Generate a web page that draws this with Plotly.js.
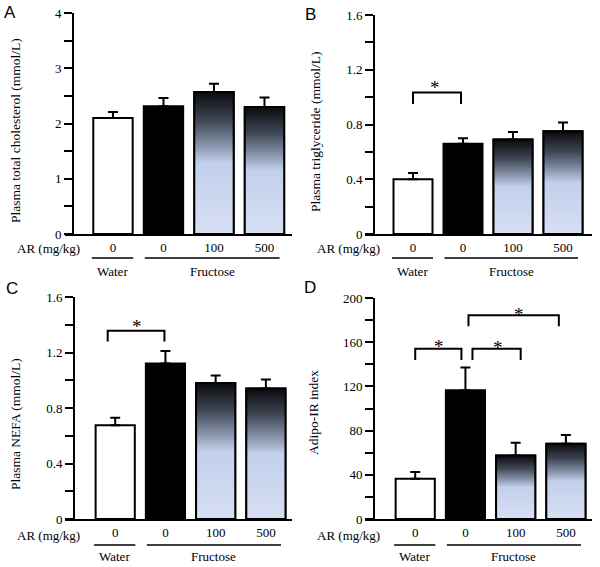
<!DOCTYPE html>
<html>
<head>
<meta charset="utf-8">
<script src="https://cdn.plot.ly/plotly-3.0.1.min.js"></script>
<style>body{margin:0;background:#fff}#chart{width:600px;height:567px}</style>
</head>
<body>
<div id="chart"></div>
<script>
// group labels
var doses = ['0', '0', '100', '500'];
var groupNames = ['Water', 'Fructose'];

// means and SEM
var cholMean = [2.10, 2.31, 2.57, 2.30];
var cholSem = [0.11, 0.15, 0.15, 0.17];
var tgMean = [0.40, 0.66, 0.69, 0.75];
var tgSem = [0.045, 0.04, 0.055, 0.065];
var nefaMean = [0.675, 1.12, 0.98, 0.94];
var nefaSem = [0.055, 0.09, 0.055, 0.065];
var adipoMean = [36.5, 116.5, 57.5, 68];
var adipoSem = [6, 20.5, 11.5, 8];

// y tick labels
var cholTicks = [0, 1, 2, 3, 4];
var cholLabels = ['0', '1', '2', '3', '4'];
var tgTicks = [0, 0.4, 0.8, 1.2, 1.6];
var tgLabels = ['0', '0.4', '0.8', '1.2', '1.6'];
var nefaTicks = [0, 0.4, 0.8, 1.2, 1.6];
var nefaLabels = ['0', '0.4', '0.8', '1.2', '1.6'];
var adipoTicks = [0, 40, 80, 120, 160, 200];
var adipoLabels = ['0', '40', '80', '120', '160', '200'];

var serif = 'Liberation Serif, Times New Roman, serif';
var W = 600, H = 567;
function py(p) { return 1 - p / H; }

var grad = [[0, '#d7dff2'], [0.5, '#c2d0ec'], [0.62, '#8a96ad'], [0.8, '#3e4654'], [1, '#0a0a0c']];
var barFill = ['#ffffff', '#000000', 'rgba(0,0,0,0)', 'rgba(0,0,0,0)'];

var panels = [
    {letter: 'A', mean: cholMean, sem: cholSem, ticks: cholTicks, labels: cholLabels, minor: 0.5,
     title: 'Plasma total cholesterol (mmol/L)', xdom: [65, 292], ydom: [13, 234], xr: [-0.95, 3.545],
     yaxisPx: 73, titleX: 15, titleY: 131, letterX: 10, letterY: 13, tickY: 248, lineY: 258, groupY: 271,
     brackets: []},
    {letter: 'B', mean: tgMean, sem: tgSem, ticks: tgTicks, labels: tgLabels, minor: 0.2,
     title: 'Plasma triglyceride (mmol/L)', xdom: [365, 592], ydom: [15, 234], xr: [-0.96, 3.58],
     yaxisPx: 374, titleX: 315, titleY: 132, letterX: 310, letterY: 14, tickY: 248, lineY: 258, groupY: 271,
     brackets: [[0, 0.96, 1.033, 0.95, 0.44, 1.105]]},
    {letter: 'C', mean: nefaMean, sem: nefaSem, ticks: nefaTicks, labels: nefaLabels, minor: 0.2,
     title: 'Plasma NEFA (mmol/L)', xdom: [65, 292], ydom: [297, 519], xr: [-1.0, 3.52],
     yaxisPx: 74, titleX: 15, titleY: 424, letterX: 12, letterY: 288, tickY: 535, lineY: 545, groupY: 556,
     brackets: [[-0.15, 0.98, 1.357, 1.28, 0.44, 1.42]]},
    {letter: 'D', mean: adipoMean, sem: adipoSem, ticks: adipoTicks, labels: adipoLabels, minor: 20,
     title: 'Adipo-IR index', xdom: [365, 592], ydom: [298, 519], xr: [-1.0, 3.52],
     yaxisPx: 374, titleX: 313, titleY: 412, letterX: 310, letterY: 287, tickY: 535, lineY: 545, groupY: 556,
     brackets: [[0, 0.92, 154, 144, 0.47, 160.8], [1.14, 2.1, 154, 144, 1.64, 160], [1.06, 2.86, 184.3, 174.4, 2.06, 190]]}
];

var groupSpans = [[-0.42, 0.4], [0.63, 3.3]];

var data = [];
var layout = {
    width: W, height: H,
    margin: {t: 0, b: 0, l: 0, r: 0},
    paper_bgcolor: '#fff', plot_bgcolor: 'rgba(0,0,0,0)',
    showlegend: false,
    font: {family: serif, size: 13, color: '#000'},
    annotations: [],
    shapes: []
};

function label(xref, yref, x, y, text, font, extra) {
    var a = {xref: xref, yref: yref, x: x, y: y, text: text, showarrow: false,
             xanchor: 'center', yanchor: 'middle', font: font};
    for (var k in extra) a[k] = extra[k];
    layout.annotations.push(a);
}

panels.forEach(function(p, i) {
    var sfx = i === 0 ? '' : String(i + 1);
    var xa = 'x' + sfx, ya = 'y' + sfx;
    var catPx = function(c) {
        return p.xdom[0] + (c - p.xr[0]) / (p.xr[1] - p.xr[0]) * (p.xdom[1] - p.xdom[0]);
    };

    data.push({
        type: 'bar', x: [0, 1, 2, 3], y: p.mean, xaxis: xa, yaxis: ya, width: 0.78,
        marker: {color: barFill, line: {color: '#000', width: 2}},
        error_y: {type: 'data', symmetric: false, array: p.sem, arrayminus: [0, 0, 0, 0],
                  color: '#000', thickness: 2, width: 5},
        hoverinfo: 'skip'
    });
    // shaded AR bars
    [2, 3].forEach(function(k) {
        var v = p.mean[k], h = 0.39;
        data.push({
            type: 'scatter', mode: 'lines', xaxis: xa, yaxis: ya,
            x: [k - h, k - h, k + h, k + h, k - h], y: [0, v, v, 0, 0],
            fill: 'toself', fillgradient: {type: 'vertical', colorscale: grad},
            line: {color: '#000', width: 2}, hoverinfo: 'skip'
        });
    });

    layout['xaxis' + sfx] = {
        domain: [p.xdom[0] / W, p.xdom[1] / W], range: p.xr, anchor: ya,
        showline: true, linewidth: 2, linecolor: '#000', ticks: '',
        tickvals: [0, 1, 2, 3], ticktext: doses, tickfont: {family: serif, size: 13, color: '#000'},
        zeroline: false, showgrid: false, fixedrange: true
    };
    layout['yaxis' + sfx] = {
        domain: [py(p.ydom[1]), py(p.ydom[0])], range: [0, p.ticks[p.ticks.length - 1]],
        anchor: 'free', position: p.yaxisPx / W,
        showline: true, linewidth: 2, linecolor: '#000',
        ticks: 'outside', ticklen: 8, tickwidth: 2, tickcolor: '#000',
        tickvals: p.ticks, ticktext: p.labels, tickfont: {family: serif, size: 13, color: '#000'},
        minor: {dtick: p.minor, tick0: 0, ticks: 'outside', ticklen: 8, tickwidth: 2, tickcolor: '#000', showgrid: false},
        zeroline: false, showgrid: false, fixedrange: true
    };

    var txt = {family: serif, size: 13, color: '#000'};
    label('paper', 'paper', p.letterX / W, py(p.letterY), p.letter,
          {family: 'Liberation Sans, Arial, sans-serif', size: 17, color: '#000'});
    label('paper', 'paper', p.titleX / W, py(p.titleY), p.title, {family: serif, size: 13.5, color: '#000'}, {textangle: -90});
    label('paper', 'paper', (p.xdom[0] - 17) / W, py(p.tickY), 'AR (mg/kg)', txt);
    groupSpans.forEach(function(s, g) {
        layout.shapes.push({type: 'line', xref: 'paper', yref: 'paper', x0: catPx(s[0]) / W, x1: catPx(s[1]) / W,
                  y0: py(p.lineY), y1: py(p.lineY), line: {color: '#000', width: 1.5}});
        label('paper', 'paper', catPx((s[0] + s[1]) / 2) / W, py(p.groupY), groupNames[g], txt);
    });
    p.brackets.forEach(function(b) {
        layout.shapes.push({type: 'path', xref: xa, yref: ya,
                  path: 'M' + b[0] + ',' + b[3] + ' L' + b[0] + ',' + b[2] + ' L' + b[1] + ',' + b[2] + ' L' + b[1] + ',' + b[3],
                  line: {color: '#000', width: 2}});
        label(xa, ya, b[4], b[5], '*', {family: serif, size: 19, color: '#000'}, {yshift: -5});
    });
});

Plotly.newPlot('chart', data, layout, {displayModeBar: false, staticPlot: true});
</script>
</body>
</html>
